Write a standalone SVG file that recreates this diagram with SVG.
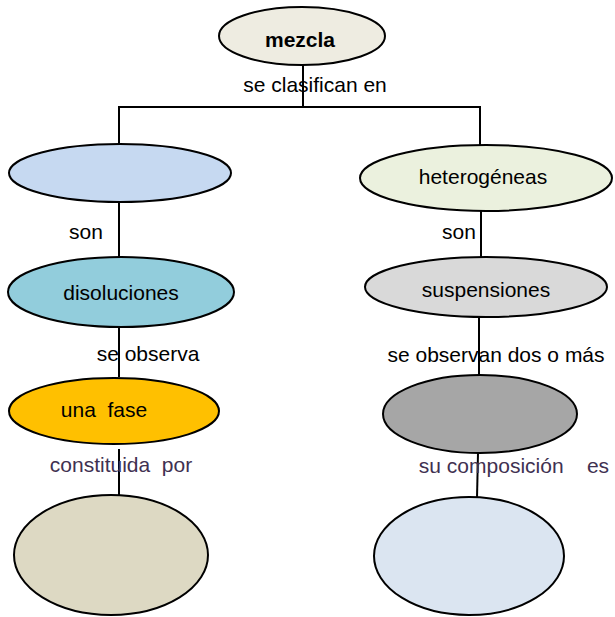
<svg xmlns="http://www.w3.org/2000/svg" width="615" height="617" viewBox="0 0 615 617">
<style>
  .n { stroke: #000; stroke-width: 2; }
  .t { font-family: "Liberation Sans", Arial, sans-serif; font-size: 21px; fill: #000; text-anchor: middle; white-space: pre; }
  .b { font-weight: bold; }
  .p { fill: #3f3151; }
  .c { stroke: #000; stroke-width: 2; fill: none; }
</style>
<rect width="615" height="617" fill="#fff"/>
<g id="connectors">
  <line class="c" x1="303" y1="65" x2="303" y2="107"/>
  <line class="c" x1="119" y1="107" x2="480" y2="107"/>
  <line class="c" x1="119" y1="106" x2="119" y2="145"/>
  <line class="c" x1="480" y1="106" x2="480" y2="145"/>
  <line class="c" x1="119" y1="202" x2="119" y2="258"/>
  <line class="c" x1="481" y1="202" x2="481" y2="258"/>
  <line class="c" x1="119" y1="328" x2="119" y2="377"/>
  <line class="c" x1="479" y1="317" x2="479" y2="376"/>
  <line class="c" x1="119" y1="449" x2="119" y2="495"/>
  <line class="c" x1="478" y1="453" x2="477" y2="498"/>
</g>
<g id="labels">
  <text class="t" x="315" y="92">se clasifican en</text>
  <text class="t" x="86" y="239">son</text>
  <text class="t" x="459" y="239">son</text>
  <text class="t" x="148" y="361">se observa</text>
  <text class="t" x="496" y="362">se observan dos o más</text>
  <text class="t p" x="121" y="472" xml:space="preserve">constituida  por</text>
  <text class="t p" x="514" y="473" xml:space="preserve">su composición    es</text>
</g>
<g id="n-mezcla">
  <ellipse class="n" cx="302" cy="36" rx="83" ry="29" fill="#eeece1"/>
  <text class="t b" x="300" y="47">mezcla</text>
</g>
<g id="n-homogeneas">
  <ellipse class="n" cx="120" cy="173" rx="111" ry="29" fill="#c6d9f1"/>
</g>
<g id="n-heterogeneas">
  <ellipse class="n" cx="486" cy="178" rx="126" ry="33" fill="#ebf1de"/>
  <text class="t" x="483" y="184">heterogéneas</text>
</g>
<g id="n-disoluciones">
  <ellipse class="n" cx="121" cy="292" rx="113" ry="35" fill="#92cddc"/>
  <text class="t" x="121" y="300">disoluciones</text>
</g>
<g id="n-suspensiones">
  <ellipse class="n" cx="486" cy="287" rx="121" ry="30" fill="#d9d9d9"/>
  <text class="t" x="486" y="297">suspensiones</text>
</g>
<g id="n-unafase">
  <ellipse class="n" cx="114" cy="411" rx="105" ry="33" fill="#ffc000"/>
  <text class="t" x="104" y="417" xml:space="preserve">una  fase</text>
</g>
<g id="n-gris">
  <ellipse class="n" cx="480" cy="414" rx="97" ry="39" fill="#a6a6a6"/>
</g>
<g id="n-izq">
  <ellipse class="n" cx="111" cy="555" rx="97" ry="60" fill="#ddd9c3"/>
</g>
<g id="n-der">
  <ellipse class="n" cx="469" cy="556" rx="95" ry="59" fill="#dbe5f1"/>
</g>
</svg>
